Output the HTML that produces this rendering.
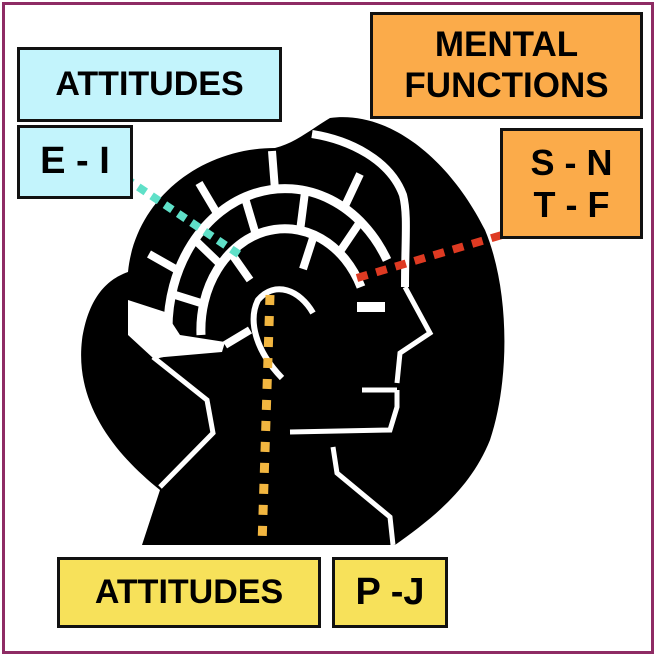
<!DOCTYPE html>
<html><head><style>
body{margin:0;background:#fff}
.b{position:absolute;border:3px solid #111;box-sizing:border-box;font-family:"Liberation Sans",sans-serif;font-weight:bold;color:#000;display:flex;align-items:center;justify-content:center;text-align:center;line-height:1.15}
</style></head><body>
<div style="position:relative;width:656px;height:656px;overflow:hidden">
<div style="position:absolute;left:2px;top:2px;width:646px;height:646px;border:3px solid #8e2b64"></div>
<svg width="656" height="656" style="position:absolute;left:0;top:0">
<path d="M142,545 L160,490 C110,450 75,400 82,340 C88,300 105,280 128,272 C135,200 200,148 275,148 C295,143 310,130 330,118 C390,110 450,160 485,230 C510,290 510,380 490,440 C470,490 430,520 395,545 Z" fill="#000"/>
<path d="M128,300 L165,312 L180,335 L225,342 L222,352 L153,358 L128,335 Z" fill="#fff"/>
<g fill="none" stroke="#fff" stroke-linecap="butt">
<path stroke-width="8" d="M312,134 C350,140 390,160 403,195 C408,215 405,240 405,287"/>
<path stroke-width="5" d="M405,287 L430,333 L400,353 L397,383 M362,390 L397,390 M397,390 L397,407 L390,430 L290,432 M333,447 L337,473 L390,517 L393,545"/>
<path stroke-width="5" d="M153,357 L207,400 L213,433 L160,487 M153,357 C180,350 200,346 223,345"/>
<path stroke-width="6" d="M313,313 C300,290 275,280 258,300 C248,320 255,350 282,378"/>
<path stroke-width="9" d="M168,330 A117,140 0 0 1 387,260"/>
<path stroke-width="9" d="M201,335 A84,101 0 0 1 361,287"/>
<path stroke-width="8" d="M168,330 L135,330 M179,271 L149,254 M218,215 L199,183 M275,190 L272,151 M344,208 L360,174 M204,304 L172,294 M221,265 L195,240 M256,235 L245,198 M300,231 L305,192 M339,253 L360,222 M250,280 L231,253 M303,269 L314,235 M225,345 L250,330"/>
</g>
<rect x="357" y="302" width="28" height="10" fill="#fff"/>
<line x1="125" y1="178" x2="240" y2="255" stroke="#5fe0c8" stroke-width="8" stroke-dasharray="9 7"/>
<line x1="357" y1="278" x2="512" y2="232" stroke="#de3a22" stroke-width="8" stroke-dasharray="11 9"/>
<line x1="270" y1="295" x2="262" y2="545" stroke="#f2b640" stroke-width="9" stroke-dasharray="10 11"/>
</svg>
<div class="b" style="left:17px;top:47px;width:265px;height:75px;background:#c3f4fc;font-size:34px">ATTITUDES</div>
<div class="b" style="left:17px;top:125px;width:116px;height:74px;background:#c3f4fc;font-size:38px">E - I</div>
<div class="b" style="left:370px;top:12px;width:273px;height:107px;background:#fbab4a;font-size:35px">MENTAL<br>FUNCTIONS</div>
<div class="b" style="left:500px;top:128px;width:143px;height:111px;background:#fbab4a;font-size:36px">S - N<br>T - F</div>
<div class="b" style="left:57px;top:557px;width:264px;height:71px;background:#f7e15a;font-size:34px">ATTITUDES</div>
<div class="b" style="left:332px;top:557px;width:116px;height:71px;background:#f7e15a;font-size:38px">P -J</div>
</div>
</body></html>
